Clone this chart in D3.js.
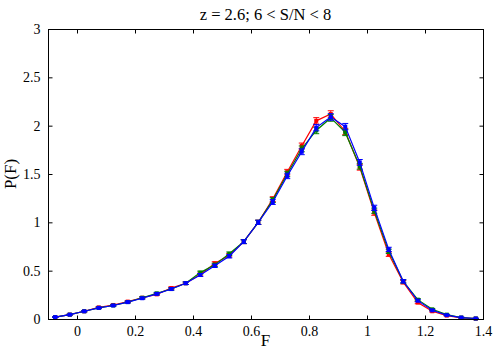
<!DOCTYPE html>
<html>
<head>
<meta charset="utf-8">
<script src="https://cdnjs.cloudflare.com/ajax/libs/d3/7.8.5/d3.min.js"></script>
<style>
body { margin: 0; background: #fff; }
text { font-family: "Liberation Serif", "DejaVu Serif", serif; }
</style>
</head>
<body>
<div class="chart"></div>
<script>
var fValues = [-0.075,-0.025,0.025,0.075,0.125,0.175,0.225,0.275,0.325,0.375,0.425,0.475,0.525,0.575,0.625,0.675,0.725,0.775,0.825,0.875,0.925,0.975,1.025,1.075,1.125,1.175,1.225,1.275,1.325,1.375];
var redVals = [0.02,0.045,0.08,0.12,0.145,0.18,0.22,0.255,0.32,0.37,0.46,0.575,0.66,0.80,1.00,1.24,1.52,1.79,2.05,2.12,1.94,1.57,1.10,0.67,0.38,0.17,0.08,0.035,0.012,0.004];
var greenVals = [0.02,0.045,0.08,0.115,0.14,0.175,0.22,0.265,0.31,0.37,0.48,0.56,0.675,0.80,1.00,1.23,1.50,1.76,1.95,2.08,1.93,1.58,1.12,0.70,0.39,0.20,0.10,0.045,0.015,0.005];
var blueVals = [0.02,0.045,0.08,0.115,0.14,0.175,0.215,0.26,0.31,0.37,0.455,0.55,0.65,0.80,1.00,1.21,1.48,1.73,1.98,2.09,1.99,1.62,1.15,0.72,0.39,0.19,0.09,0.04,0.015,0.005];
var errVals = [0.004,0.005,0.006,0.008,0.008,0.009,0.01,0.011,0.012,0.013,0.015,0.017,0.018,0.02,0.022,0.025,0.028,0.03,0.033,0.034,0.033,0.03,0.027,0.022,0.017,0.012,0.008,0.005,0.004,0.003];
var xTicks = [0,0.2,0.4,0.6,0.8,1,1.2,1.4];
var yTicks = [0,0.5,1,1.5,2,2.5,3];

var series = [
  {name: "red", color: "#ff0000", vals: redVals},
  {name: "green", color: "#007f00", vals: greenVals},
  {name: "blue", color: "#0000ff", vals: blueVals}
];

var width = 500, height = 350,
pLeft = 48, pRight = 483, pTop = 29, pBottom = 319;

var svg = d3.select(".chart").append("svg")
  .attr("width", width).attr("height", height);

var x = d3.scaleLinear().domain([-0.1, 1.4]).range([pLeft, pRight]);
var y = d3.scaleLinear().domain([0, 3]).range([pBottom, pTop]);

// series
series.forEach(function(s){
  var pts = fValues.map(function(f, i){ return {f: f, v: s.vals[i], e: errVals[i]}; });
  var g = svg.append("g");
  g.append("path")
    .datum(pts)
    .attr("fill", "none")
    .attr("stroke", s.color)
    .attr("stroke-width", 1.2)
    .attr("d", d3.line().x(function(d){return x(d.f);}).y(function(d){return y(d.v);}));
  var eb = g.selectAll(".eb").data(pts).enter().append("g");
  eb.append("line")
    .attr("x1", function(d){return x(d.f);}).attr("x2", function(d){return x(d.f);})
    .attr("y1", function(d){return y(d.v - d.e);}).attr("y2", function(d){return y(d.v + d.e);})
    .attr("stroke", s.color).attr("stroke-width", 1);
  [-1, 1].forEach(function(sign){
    eb.append("line")
      .attr("x1", function(d){return x(d.f) - 3;}).attr("x2", function(d){return x(d.f) + 3;})
      .attr("y1", function(d){return y(d.v + sign*d.e);}).attr("y2", function(d){return y(d.v + sign*d.e);})
      .attr("stroke", s.color).attr("stroke-width", 1);
  });
  g.selectAll(".mk").data(pts).enter().append("rect")
    .attr("x", function(d){return x(d.f) - 2;})
    .attr("y", function(d){return y(d.v) - 2;})
    .attr("width", 4).attr("height", 4)
    .attr("fill", s.color);
});

// axes box
svg.append("rect")
  .attr("x", pLeft + 0.5).attr("y", pTop + 0.5)
  .attr("width", pRight - pLeft).attr("height", pBottom - pTop)
  .attr("fill", "none").attr("stroke", "#000").attr("stroke-width", 1);

var gx = svg.append("g").attr("transform", "translate(0," + (pBottom + 0.5) + ")")
  .call(d3.axisBottom(x).tickValues(xTicks).tickSizeInner(-4).tickSizeOuter(0).tickPadding(7)
    .tickFormat(function(d){ return String(+d.toFixed(1)); }));
var gxt = svg.append("g").attr("transform", "translate(0," + (pTop + 0.5) + ")")
  .call(d3.axisTop(x).tickValues(xTicks).tickSizeInner(-4).tickSizeOuter(0).tickFormat(""));
var gy = svg.append("g").attr("transform", "translate(" + (pLeft + 0.5) + ",0)")
  .call(d3.axisLeft(y).tickValues(yTicks).tickSizeInner(-4).tickSizeOuter(0).tickPadding(8)
    .tickFormat(function(d){ return String(d); }));
var gyr = svg.append("g").attr("transform", "translate(" + (pRight + 0.5) + ",0)")
  .call(d3.axisRight(y).tickValues(yTicks).tickSizeInner(-4).tickSizeOuter(0).tickFormat(""));

[gx, gxt, gy, gyr].forEach(function(g){
  g.select(".domain").remove();
  g.selectAll("text").attr("font-family", "Liberation Serif, serif").attr("font-size", 14).attr("fill", "#000");
});

svg.append("text")
  .attr("x", (pLeft + pRight) / 2).attr("y", 20)
  .attr("text-anchor", "middle").attr("font-size", 16.5)
  .text("z = 2.6; 6 < S/N < 8");

svg.append("text")
  .attr("x", (pLeft + pRight) / 2).attr("y", 346)
  .attr("text-anchor", "middle").attr("font-size", 17)
  .text("F");

svg.append("text")
  .attr("transform", "translate(16," + ((pTop + pBottom) / 2) + ") rotate(-90)")
  .attr("text-anchor", "middle").attr("font-size", 17)
  .text("P(F)");
</script>
</body>
</html>
